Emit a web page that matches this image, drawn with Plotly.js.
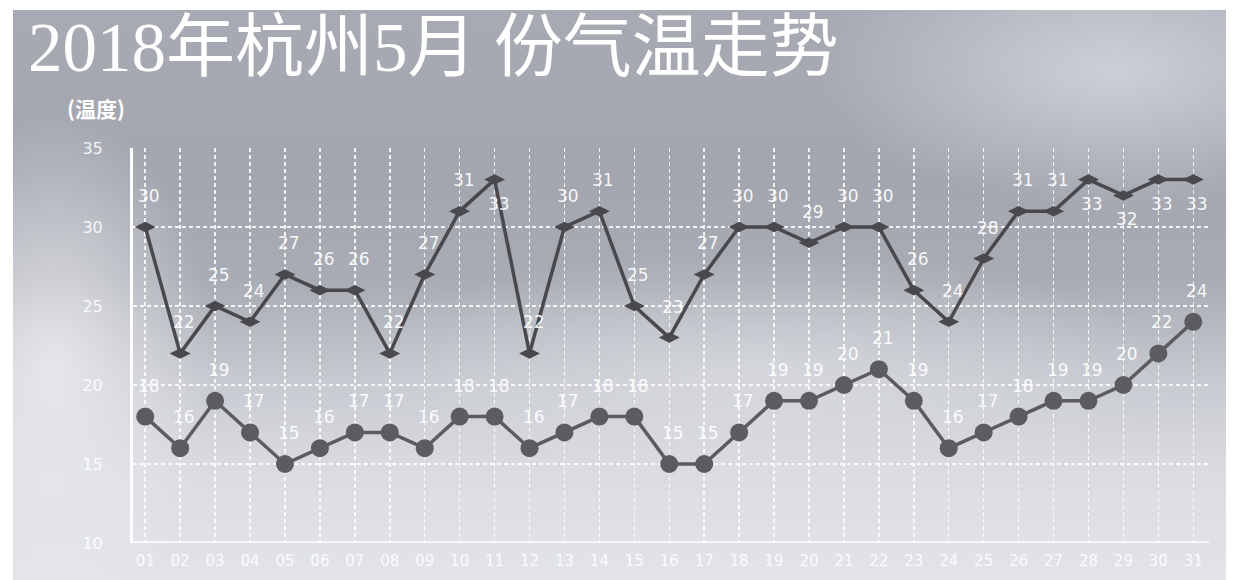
<!DOCTYPE html>
<html>
<head>
<meta charset="utf-8">
<script src="https://cdn.plot.ly/plotly-3.0.1.min.js"></script>
<style>
  html, body { margin: 0; padding: 0; background: #ffffff; }
  #wrap { position: relative; width: 1234px; height: 580px; overflow: hidden; }
  #bg {
    position: absolute; left: 13px; top: 10px; right: 8px; bottom: 0;
    background:
      radial-gradient(ellipse 160px 260px at 40px 360px, rgba(236,237,241,0.85), rgba(236,237,241,0) 100%),
      radial-gradient(ellipse 300px 140px at 1100px 60px, rgba(222,224,231,0.7), rgba(222,224,231,0) 100%),
      radial-gradient(ellipse 420px 120px at 750px 360px, rgba(225,227,232,0.55), rgba(225,227,232,0) 100%),
      linear-gradient(180deg, #a7aab3 0%, #a3a6af 30%, #a9acb4 48%, #c9cbd2 66%, #dcdde3 82%, #e3e4e9 100%);
  }
  #chart { position: absolute; left: 0; top: 0; width: 1234px; height: 580px; }
</style>
</head>
<body>
<div id="wrap">
  <div id="bg"></div>
  <div id="chart"></div>
</div>
<script>
const days = ['01','02','03','04','05','06','07','08','09','10','11','12','13','14','15','16','17','18','19','20','21','22','23','24','25','26','27','28','29','30','31'];
const highTemps = [30,22,25,24,27,26,26,22,27,31,33,22,30,31,25,23,27,30,30,29,30,30,26,24,28,31,31,33,32,33,33];
const lowTemps  = [18,16,19,17,15,16,17,17,16,18,18,16,17,18,18,15,15,17,19,19,20,21,19,16,17,18,19,19,20,22,24];
const yTicks = [10,15,20,25,30,35];

const titleText = '2018年杭州5月 份气温走势';
const unitText = '(温度)';

const traces = [
  {
    x: days, y: highTemps, type: 'scatter', mode: 'lines+markers', name: '最高气温',
    line: {color: '#48484d', width: 3.5},
    marker: {symbol: 'diamond-wide', size: 15, color: '#48484d'},
    hoverinfo: 'skip', cliponaxis: false
  },
  {
    x: days, y: lowTemps, type: 'scatter', mode: 'lines+markers', name: '最低气温',
    line: {color: '#5b5b61', width: 3.5},
    marker: {symbol: 'circle', size: 18, color: '#5b5b61'},
    hoverinfo: 'skip', cliponaxis: false
  }
];

const labelFont = {family: 'DejaVu Sans, Verdana, sans-serif', size: 17, color: 'rgba(255,255,255,0.92)'};
const annotations = [];
days.forEach((d, i) => {
  const hv = highTemps[i];
  annotations.push({
    x: i, y: hv, xref: 'x', yref: 'y', text: String(hv), showarrow: false,
    xshift: 4, yshift: hv > 31 ? -24 : 31, font: labelFont
  });
  const lv = lowTemps[i];
  annotations.push({
    x: i, y: lv, xref: 'x', yref: 'y', text: String(lv), showarrow: false,
    xshift: 4, yshift: 31, font: labelFont
  });
});
annotations.push({
  x: -0.0344, y: 1.1005, xref: 'paper', yref: 'paper', text: '<b>' + unitText + '</b>',
  showarrow: false, xanchor: 'center', yanchor: 'middle',
  font: {family: 'Noto Sans CJK SC, sans-serif', size: 21, color: '#ffffff'}
});

const layout = {
  width: 1234, height: 580,
  margin: {l: 133, r: 25, t: 148, b: 37, pad: 0},
  paper_bgcolor: 'rgba(0,0,0,0)',
  plot_bgcolor: 'rgba(0,0,0,0)',
  showlegend: false,
  title: {
    text: titleText,
    x: 28 / 1234, xanchor: 'left', xref: 'container',
    y: 1 - 47 / 580, yanchor: 'middle', yref: 'container',
    font: {family: 'Liberation Serif, Noto Sans CJK SC, serif', size: 69, color: '#ffffff'}
  },
  xaxis: {
    type: 'category',
    range: [-0.35, 30.45],
    tickvals: days, ticktext: days,
    showgrid: true, gridcolor: 'rgba(255,255,255,0.85)', gridwidth: 1.5, griddash: '4px,3px',
    showline: false, zeroline: false,
    ticks: '', ticklabelstandoff: 7,
    tickfont: {family: 'DejaVu Sans, Verdana, sans-serif', size: 15, color: 'rgba(255,255,255,0.88)'},
    fixedrange: true
  },
  yaxis: {
    range: [10, 35],
    tickvals: yTicks,
    showgrid: true, gridcolor: 'rgba(255,255,255,0.85)', gridwidth: 1.5, griddash: '4px,3px',
    showline: true, linecolor: '#ffffff', linewidth: 3,
    zeroline: false,
    ticks: '', ticklabelstandoff: 24,
    tickfont: {family: 'DejaVu Sans, Verdana, sans-serif', size: 16, color: 'rgba(255,255,255,0.88)'},
    fixedrange: true
  },
  shapes: [
    {type: 'line', xref: 'paper', yref: 'y', x0: 0, x1: 1, y0: 10, y1: 10,
     line: {color: '#ffffff', width: 3}}
  ],
  annotations: annotations
};

Plotly.newPlot('chart', traces, layout, {displayModeBar: false, staticPlot: true});
</script>
</body>
</html>
